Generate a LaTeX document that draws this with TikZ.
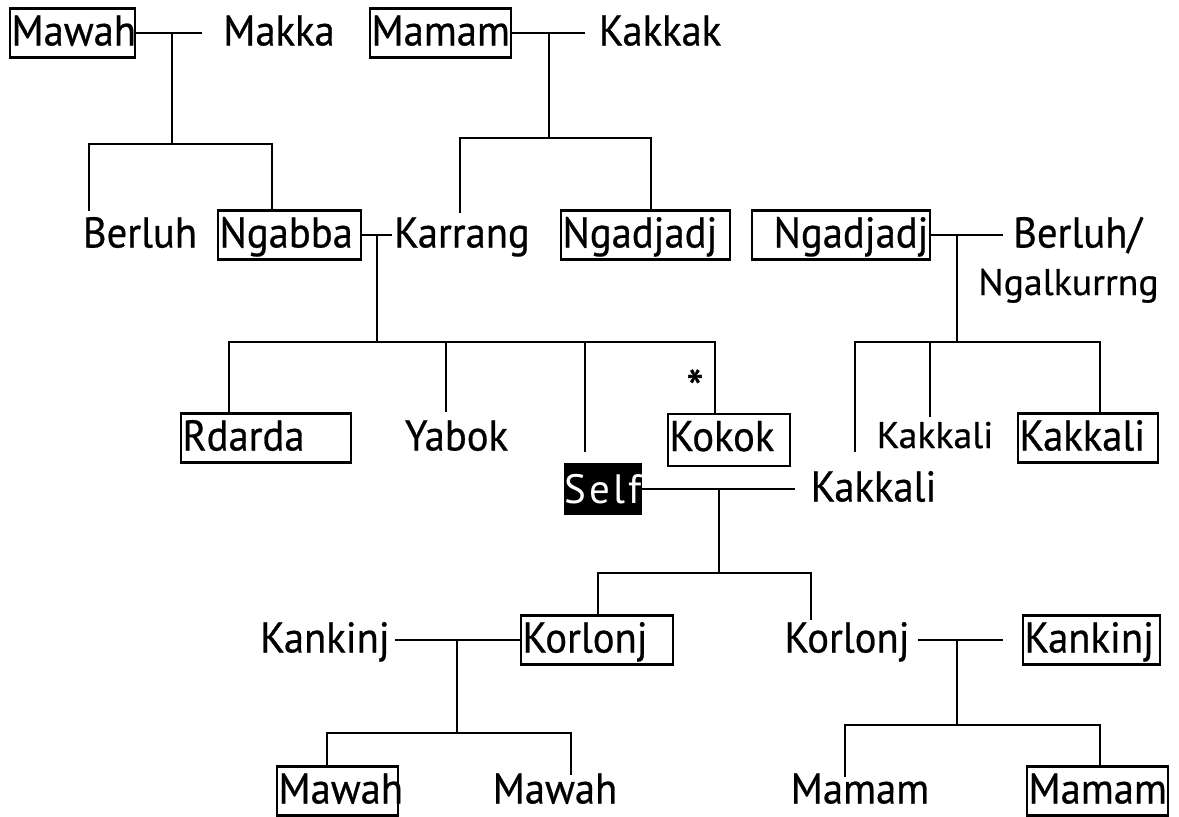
\documentclass[tikz,border=0pt]{standalone}
\usepackage{fontspec}
\setmainfont{PT Sans}
\newfontfamily\lblfont{PT Sans}[FakeStretch=0.945, FakeBold=0.6]
\newfontfamily\smlfont{PT Sans}[FakeStretch=1.02, FakeBold=0.6]
\newfontfamily\selffont{PT Sans}[LetterSpace=8]
\begin{document}
\begin{tikzpicture}[x=1pt,y=-1pt,
  every node/.style={font=\lblfont\fontsize{43}{50}\selectfont},
  lbl/.style={inner xsep=1.5pt, inner ysep=1pt, text height=36pt, text depth=11pt},
  box/.style={lbl, draw, line width=2.3pt, align=left},
  sml/.style={font=\smlfont\fontsize{37}{44}\selectfont, inner sep=1pt, anchor=base},
  selfbox/.style={fill=black, text=white, inner sep=0pt, minimum width=78pt, minimum height=52pt,
    font=\selffont\fontsize{41}{46}\selectfont, text height=30pt, text depth=2pt},
  ln/.style={line width=2.3pt}]
\useasboundingbox (0,0) rectangle (1179,817);

% ---- row 1
\node[box, text width=122pt] (mawahT) at (72.5,33) {Mawah};
\node[lbl] (makka) at (279,33) {Makka};
\node[box, text width=138pt] (mamamT) at (440.5,33) {Mamam};
\node[lbl] (kakkak) at (660,33) {Kakkak};

% ---- row 2
\node[lbl] (berluhL) at (140,235) {Berluh};
\node[box, text width=140pt] (ngabba) at (289.5,235) {Ngabba};
\node[lbl] (karrang) at (462,235) {Karrang};
\node[box, text width=166pt] (ngadjM) at (645.5,235) {Ngadjadj};
\node[box, text width=175pt, align=right] (ngadjR) at (841,235) {Ngadjadj};
\node[lbl] (berluhR) at (1077.5,235) {Berluh/};
\node[sml] (ngalk) at (1068.5,295) {Ngalkurrng};

% ---- row 3
\node[box, text width=167pt] (rdarda) at (266,438) {Rdarda};
\node[lbl] (yabok) at (456.5,438) {Yabok};
\node[inner sep=0pt, font=\lblfont\fontsize{52}{56}\selectfont] (star) at (695,388) {*};
\node[box, text width=119pt, text depth=14pt] (kokok) at (729,440) {Kokok};
\node[sml] (kakkS) at (935,448) {Kakkali};
\node[box, text width=137pt] (kakkB) at (1088,438) {Kakkali};

% ---- row 4
\node[selfbox] (self) at (603,489) {Self};
\node[lbl] (kakkSelf) at (873.5,489) {Kakkali};

% ---- row 5
\node[lbl] (kankL) at (325,640) {Kankinj};
\node[box, text width=149pt] (korL) at (597,640) {Korlonj};
\node[lbl] (korR) at (847,640) {Korlonj};
\node[box, text width=134pt] (kankR) at (1091.5,640) {Kankinj};

% ---- row 6
\node[box, text width=118pt] (mawahB) at (337.5,791) {Mawah};
\node[lbl] (mawahB2) at (555,791) {Mawah};
\node[lbl] (mamamB1) at (860,791) {Mamam};
\node[box, text width=138pt] (mamamB) at (1097.5,791) {Mamam};

% ---- coordinates
\coordinate (mkE) at (202,33);
\coordinate (u1) at (172,33);
\coordinate (s1) at (172,144);
\coordinate (berlT) at (89,211);
\coordinate (x1) at (272,0);

\coordinate (kkW) at (585,33);
\coordinate (u2) at (549,33);
\coordinate (s2) at (549,138);
\coordinate (karT) at (460,213);
\coordinate (x2) at (651,0);

\coordinate (u3) at (377,235);
\coordinate (s3) at (377,342);
\coordinate (x3a) at (229,0);
\coordinate (yabT) at (446,412);
\coordinate (selfT) at (585,452);
\coordinate (x3d) at (715,0);

\coordinate (brW) at (1003,235);
\coordinate (u4) at (957,235);
\coordinate (s4) at (957,342);
\coordinate (l4) at (855,452);
\coordinate (kkT) at (930,417);
\coordinate (x4) at (1100,0);

\coordinate (kkSW) at (795,489);
\coordinate (u5) at (719,489);
\coordinate (s5) at (719,573);
\coordinate (x5) at (598,0);
\coordinate (korRT) at (811,620);

\coordinate (kankLE) at (395,640);
\coordinate (u6) at (457,640);
\coordinate (s6) at (457,733);
\coordinate (x6) at (327,0);
\coordinate (mwT) at (571,775);

\coordinate (korRE) at (918,640);
\coordinate (kankRW) at (1003,640);
\coordinate (u7) at (957,640);
\coordinate (s7) at (957,725);
\coordinate (mmT) at (845,777);
\coordinate (x7) at (1100,0);

% ---- connectors
\draw[ln] (mawahT.east) -- (mkE);
\draw[ln] (u1) -- (s1);
\draw[ln] (berlT) |- (s1) -| (x1 |- ngabba.north);

\draw[ln] (mamamT.east) -- (kkW);
\draw[ln] (u2) -- (s2);
\draw[ln] (karT) |- (s2) -| (x2 |- ngadjM.north);

\draw[ln] (ngabba.east) -- (karrang.west);
\draw[ln] (u3) -- (s3);
\draw[ln] (x3a |- rdarda.north) |- (s3) -| (x3d |- kokok.north);
\draw[ln] (yabT) -- (yabT |- s3);
\draw[ln] (selfT) -- (selfT |- s3);

\draw[ln] (ngadjR.east) -- (brW);
\draw[ln] (u4) -- (s4);
\draw[ln] (l4) |- (s4) -| (x4 |- kakkB.north);
\draw[ln] (kkT) -- (kkT |- s4);

\draw[ln] (self.east) -- (kkSW);
\draw[ln] (u5) -- (s5);
\draw[ln] (x5 |- korL.north) |- (s5) -| (korRT);

\draw[ln] (kankLE) -- (korL.west);
\draw[ln] (u6) -- (s6);
\draw[ln] (x6 |- mawahB.north) |- (s6) -| (mwT);

\draw[ln] (korRE) -- (kankRW);
\draw[ln] (u7) -- (s7);
\draw[ln] (mmT) |- (s7) -| (x7 |- mamamB.north);
\end{tikzpicture}
\end{document}
